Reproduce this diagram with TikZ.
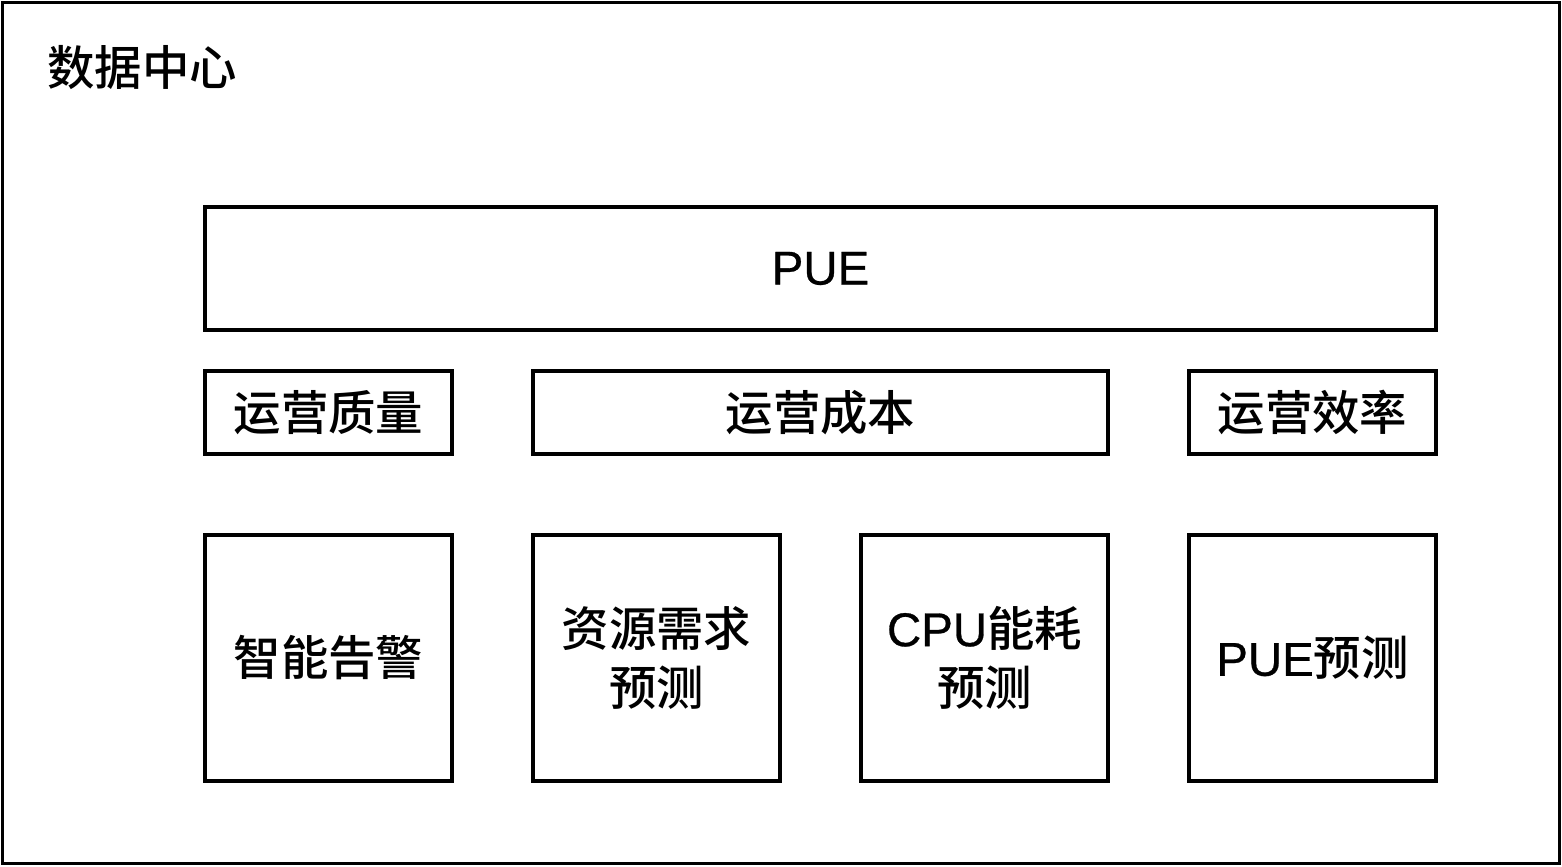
\documentclass[tikz,border=0pt]{standalone}
\usepackage{fontspec}
\setmainfont{Noto Sans CJK SC}[UprightFont={* Medium}]
\newfontfamily\latinfont{Liberation Sans}[FakeBold=0.6, UprightFeatures={FakeBold=0.6}]
\usetikzlibrary{positioning}

\begin{document}
\begin{tikzpicture}[x=0.02cm, y=-0.02cm,
    box/.style={draw, line width=2pt, inner sep=0pt, align=center,
                font=\fontsize{27}{34}\selectfont},
    widebox/.style={box, minimum width=24.62cm, minimum height=2.46cm},
    rowbox/.style={box, minimum width=4.94cm, minimum height=1.66cm},
    taskbox/.style={box, minimum width=4.94cm, minimum height=4.92cm}]
    \useasboundingbox (0,0) rectangle (1562,866);
    % outer frame
    \draw[line width=2pt] (2.5,2.5) rectangle (1559.5,863.5);
    \node[anchor=west, font=\fontsize{27}{34}\selectfont] (title) at (41,68) {数据中心};

    % top level
    \node[widebox] (pue) at (820.5,268.5) {\latinfont PUE};

    % middle row
    \node[rowbox] (quality) at (328.5,412.5) {运营质量};
    \node[rowbox, minimum width=11.5cm] (cost) at (820.5,412.5) {运营成本};
    \node[rowbox] (efficiency) at (1312.5,412.5) {运营效率};

    % bottom row
    \node[taskbox] (alarm) at (328.5,658) {智能告警};
    \node[taskbox] (demand) at (656.5,658) {资源需求\\预测};
    \node[taskbox] (cpu) at (984.5,658) {{\latinfont CPU}能耗\\预测};
    \node[taskbox] (puepred) at (1312.5,658) {{\latinfont PUE}预测};
\end{tikzpicture}
\end{document}
